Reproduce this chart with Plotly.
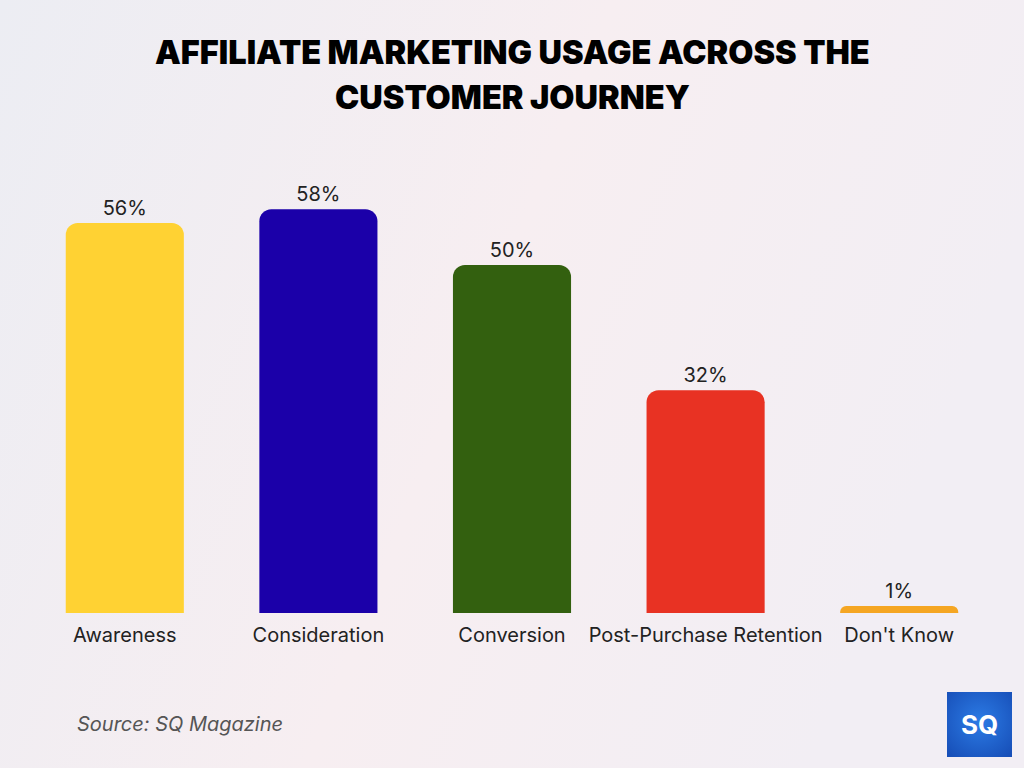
import plotly.graph_objects as go

categories = ["Awareness", "Consideration", "Conversion", "Post-Purchase Retention", "Don't Know"]
values = [56, 58, 50, 32, 1]
labels = ["56%", "58%", "50%", "32%", "1%"]
colors = ["#FFD233", "#1B00A9", "#33600F", "#E83223", "#F5A623"]

title_lines = ["AFFILIATE MARKETING USAGE ACROSS THE", "CUSTOMER JOURNEY"]
source_text = "Source: SQ Magazine"

W, H = 1024, 768
ML, MR, MT, MB = 28, 28, 150, 155
PW, PH = W - ML - MR, H - MT - MB

def px_x(x):
    return (x - ML) / PW

def px_y(y):
    return (H - MB - y) / PH

bg_svg = (
    "data:image/svg+xml;utf8,"
    "<svg xmlns='http://www.w3.org/2000/svg' width='1024' height='768' preserveAspectRatio='none'>"
    "<defs><linearGradient id='g' x1='0' y1='0' x2='1' y2='0.3'>"
    "<stop offset='0' stop-color='%23ECEDF3'/>"
    "<stop offset='0.55' stop-color='%23F7EEF1'/>"
    "<stop offset='1' stop-color='%23F2EEF4'/>"
    "</linearGradient></defs>"
    "<rect width='1024' height='768' fill='url(%23g)'/></svg>"
)

logo_svg = (
    "data:image/svg+xml;utf8,"
    "<svg xmlns='http://www.w3.org/2000/svg' width='65' height='65'>"
    "<defs><radialGradient id='r' cx='0.5' cy='0.45' r='0.7'>"
    "<stop offset='0' stop-color='%232C7BE5'/>"
    "<stop offset='1' stop-color='%23174FB8'/>"
    "</radialGradient></defs>"
    "<rect width='65' height='65' fill='url(%23r)'/></svg>"
)

fig = go.Figure()
fig.add_trace(go.Bar(
    x=categories, y=values, text=labels, textposition="outside",
    marker=dict(color=colors, cornerradius=12, line=dict(width=0)),
    textfont=dict(family="Inter, Roboto, sans-serif", size=20, color="#222222"),
    cliponaxis=False, hoverinfo="skip",
))

title_font = dict(family="Inter, Roboto, sans-serif", size=32.5, color="#000000", weight=900)
annotations = [
    dict(text=title_lines[0], xref="paper", yref="paper", x=px_x(512), y=px_y(52),
         xanchor="center", yanchor="middle", showarrow=False, font=title_font),
    dict(text=title_lines[1], xref="paper", yref="paper", x=px_x(512), y=px_y(97),
         xanchor="center", yanchor="middle", showarrow=False, font=title_font),
    dict(text=source_text, xref="paper", yref="paper", x=px_x(75), y=px_y(724),
         xanchor="left", yanchor="middle", showarrow=False,
         font=dict(family="Inter, Roboto, sans-serif", size=20, color="#555555", style="italic")),
    dict(text="<b>SQ</b>", xref="paper", yref="paper", x=px_x(979.5), y=px_y(724),
         xanchor="center", yanchor="middle", showarrow=False,
         font=dict(family="Inter, Roboto, sans-serif", size=26, color="#FFFFFF")),
]

fig.update_layout(
    width=W, height=H,
    margin=dict(l=ML, r=MR, t=MT, b=MB),
    paper_bgcolor="#F2EEF3", plot_bgcolor="rgba(0,0,0,0)",
    bargap=0.39,
    showlegend=False,
    xaxis=dict(showgrid=False, zeroline=False, showline=False, ticks="", ticklabelstandoff=8,
               tickfont=dict(family="Inter, Roboto, sans-serif", size=20, color="#222222")),
    yaxis=dict(range=[0, 66.5], visible=False, showgrid=False, zeroline=False),
    images=[
        dict(source=bg_svg, xref="paper", yref="paper", x=px_x(0), y=px_y(0),
             sizex=W / PW, sizey=H / PH, xanchor="left", yanchor="top",
             sizing="stretch", layer="below"),
        dict(source=logo_svg, xref="paper", yref="paper", x=px_x(947), y=px_y(692),
             sizex=65 / PW, sizey=65 / PH, xanchor="left", yanchor="top",
             sizing="stretch", layer="above"),
    ],
    annotations=annotations,
)

fig.write_html("out.html")
